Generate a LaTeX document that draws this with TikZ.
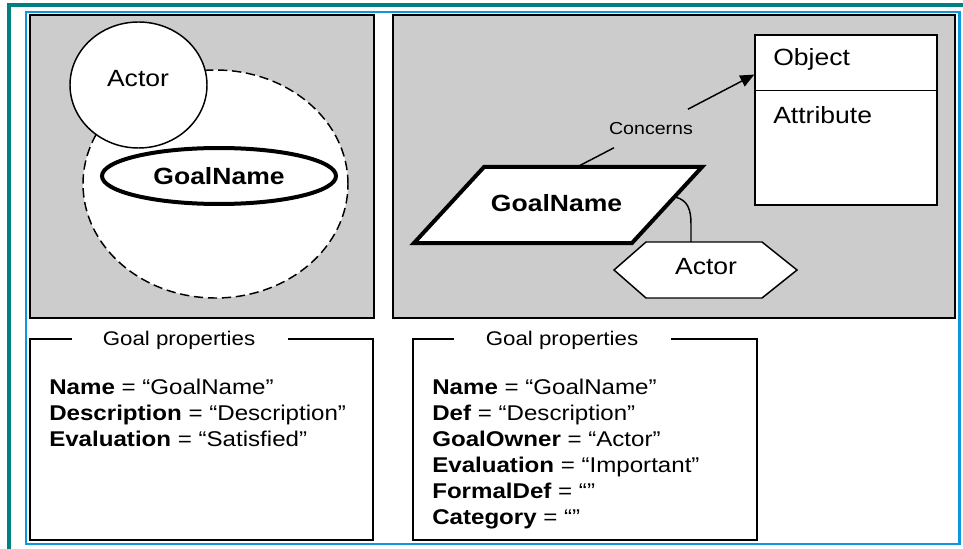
\documentclass[tikz,border=0pt]{standalone}
\usepackage{fontspec}
\setmainfont{Liberation Sans}[FakeStretch=1.13]
\usetikzlibrary{arrows.meta,calc,shapes.geometric}
\definecolor{tealline}{RGB}{0,128,128}
\definecolor{frameblue}{RGB}{16,150,222}
\definecolor{panelgray}{RGB}{204,204,204}
\newcommand{\bigsz}{\fontsize{17.6}{20}\selectfont}
\newcommand{\propsz}{\fontsize{16}{19.5}\selectfont}
\newcommand{\titlesz}{\fontsize{14.8}{17}\selectfont}
\newcommand{\concsz}{\fontsize{13}{15}\selectfont}
\begin{document}
\begin{tikzpicture}[x=0.75pt,y=-0.75pt,
  panelbox/.style={draw=black, fill=panelgray, line width=1.1pt},
  normline/.style={line width=1.1pt},
  heavyline/.style={line width=3pt},
  bigtxt/.style={font=\bigsz, inner sep=0pt},
  proptxt/.style={font=\propsz, inner sep=0pt, anchor=base west},
  titletxt/.style={font=\titlesz, inner sep=0pt, anchor=base}
]
\useasboundingbox (0,0) rectangle (963,549);
\fill[white] (0,0) rectangle (963,549);
% outer frames
\draw[tealline, line width=2.5pt] (963,5) -- (9,5) -- (9,549);
\draw[frameblue, line width=1.6pt] (26,12) rectangle (959.5,544);

% panels
\draw[panelbox] (30,15) rectangle (374,318);
\draw[panelbox] (393,15) rectangle (955,318);

% ---- left panel
\node[ellipse, draw, normline, dash pattern=on 7pt off 3.5pt, fill=white,
      minimum width=198.75pt, minimum height=171pt, inner sep=0pt] (scopeL) at (215.5,184) {};
\node[ellipse, draw, normline, fill=white,
      minimum width=102.75pt, minimum height=94.5pt, inner sep=0pt] (actorL) at (138.5,85) {};
\node[bigtxt, anchor=base] (actorLtxt) at (138,86.5) {Actor};
\node[ellipse, draw, heavyline, fill=white, font=\bigsz\bfseries,
      minimum width=175.5pt, minimum height=42pt, inner sep=0pt] (goalL) at (219,176) {GoalName};

% ---- right panel
\draw[heavyline, line join=miter, fill=white] (484,167) -- (702,167) -- (632,243) -- (414,243) -- cycle;
\node[bigtxt, font=\bigsz\bfseries, anchor=base] (goalR) at (556.5,211.5) {GoalName};
\coordinate (gtop) at (577,167);
\coordinate (gright) at (675,197);

\draw[normline, fill=white] (614,270) -- (646,242) -- (762,242) -- (797,270) -- (762,298) -- (646,298) -- cycle;
\node[bigtxt, anchor=base] (actorR) at (706,274.5) {Actor};
\coordinate (hextop) at (691,242);
\draw[normline] (gright) .. controls (688,200) and (691,210) .. (691,224) -- (hextop);

\node[draw, normline, fill=white, minimum width=136.5pt, minimum height=127.5pt, inner sep=0pt] (obj) at (846,120) {};
\draw[normline] ($(obj.north west)!0.329!(obj.south west)$) -- ($(obj.north east)!0.329!(obj.south east)$);
\node[bigtxt, anchor=base west] (objtxt) at (773,65.5) {Object};
\node[bigtxt, anchor=base west] (attrtxt) at (773,123.5) {Attribute};
\coordinate (objin) at ($(obj.north west)!0.235!(obj.south west)$);

\node[font=\concsz, inner xsep=2pt, inner ysep=0pt, minimum height=28.5pt] (conc) at (651,128.5) {Concerns};
\draw[normline] (gtop) -- (conc);
\draw[normline, -{Triangle[length=10.5pt, width=9pt]}] (conc) -- (objin);

% ---- properties boxes
\node[titletxt] (titleL) at (179,345.5) {Goal properties};
\draw[normline] (72,339) -- (30,339) -- (30,540) -- (373,540) -- (373,339) -- (288,339);
\node[proptxt] (l1) at (49,394.5) {\textbf{Name} = “GoalName”};
\node[proptxt] (l2) at (49,420.5) {\textbf{Description} = “Description”};
\node[proptxt] (l3) at (49,446.5) {\textbf{Evaluation} = “Satisfied”};

\node[titletxt] (titleR) at (562,345.5) {Goal properties};
\draw[normline] (454,339) -- (413,339) -- (413,540) -- (757,540) -- (757,339) -- (671,339);
\node[proptxt] (r1) at (432,394.5) {\textbf{Name} = “GoalName”};
\node[proptxt] (r2) at (432,420.5) {\textbf{Def} = “Description”};
\node[proptxt] (r3) at (432,446.5) {\textbf{GoalOwner} = “Actor”};
\node[proptxt] (r4) at (432,472.5) {\textbf{Evaluation} = “Important”};
\node[proptxt] (r5) at (432,498.5) {\textbf{FormalDef} = “”};
\node[proptxt] (r6) at (432,524.5) {\textbf{Category} = “”};
\end{tikzpicture}
\end{document}
